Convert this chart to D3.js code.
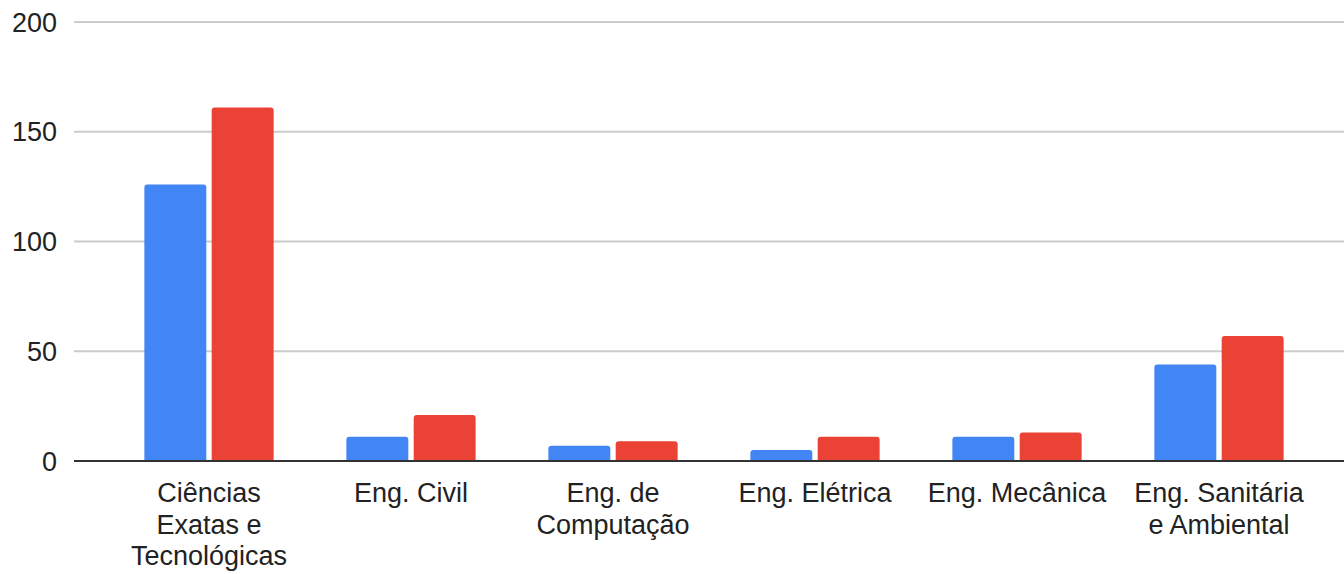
<!DOCTYPE html>
<html>
<head>
<meta charset="utf-8">
<script src="https://cdn.jsdelivr.net/npm/d3@7"></script>
<style>
  body { margin: 0; background: #fff; }
  svg { display: block; font-family: "Liberation Sans", Arial, sans-serif; }
</style>
</head>
<body>
<svg id="svg"></svg>
<script>
const categories = [
    ["Ciências", "Exatas e", "Tecnológicas"],
    ["Eng. Civil"],
    ["Eng. de", "Computação"],
    ["Eng. Elétrica"],
    ["Eng. Mecânica"],
    ["Eng. Sanitária", "e Ambiental"]
];
const seriesNames = ["s1", "s2"];
const blueValues = [126, 11, 7, 5, 11, 44];
const redValues = [161, 21, 9, 11, 13, 57];
const yTicks = [0, 50, 100, 150, 200];
const colours = ["#4285f4", "#ea4335"];

const width = 1344;
const height = 574;
let svg = d3.select("#svg").attr("width", width).attr("height", height);

const plotLeft = 74, plotRight = 1344;
const yScale = d3.scaleLinear().domain([0, 200]).range([461, 22]);

const x0 = d3.scaleBand()
    .domain(d3.range(categories.length))
    .range([108, 1320])
    .paddingInner(0.36)
    .paddingOuter(0.18);
const x1 = d3.scaleBand()
    .domain(seriesNames)
    .range([0, x0.bandwidth()])
    .paddingInner(0.08);

// gridlines
svg.append("g")
    .selectAll("line")
    .data(yTicks.filter(d => d > 0))
    .join("line")
    .attr("x1", plotLeft)
    .attr("x2", plotRight)
    .attr("y1", d => yScale(d))
    .attr("y2", d => yScale(d))
    .attr("stroke", "#cccccc")
    .attr("stroke-width", 2);

// y labels
svg.append("g")
    .selectAll("text")
    .data(yTicks)
    .join("text")
    .attr("x", 57)
    .attr("y", d => yScale(d))
    .attr("dy", "0.36em")
    .attr("text-anchor", "end")
    .attr("font-size", "27px")
    .attr("fill", "#222")
    .text(d => d);

// bars with rounded tops
function barPath(x, y, w, h, r) {
    r = Math.min(r, h, w / 2);
    return `M${x},${y + h}V${y + r}Q${x},${y} ${x + r},${y}H${x + w - r}Q${x + w},${y} ${x + w},${y + r}V${y + h}Z`;
}

const rows = categories.map((c, i) => ({ i: i, values: [blueValues[i], redValues[i]] }));
const groups = svg.append("g")
    .selectAll("g")
    .data(rows)
    .join("g")
    .attr("transform", d => `translate(${x0(d.i)},0)`);

groups.selectAll("path")
    .data(d => d.values.map((v, k) => ({ key: seriesNames[k], value: v, k: k })))
    .join("path")
    .attr("d", d => {
        const y = yScale(d.value);
        return barPath(x1(d.key), y, x1.bandwidth(), yScale(0) - y, 3);
    })
    .attr("fill", d => colours[d.k]);

// baseline
svg.append("line")
    .attr("x1", plotLeft)
    .attr("x2", plotRight)
    .attr("y1", yScale(0))
    .attr("y2", yScale(0))
    .attr("stroke", "#333")
    .attr("stroke-width", 2);

// x labels
const labels = svg.append("g")
    .selectAll("text")
    .data(categories)
    .join("text")
    .attr("x", (d, i) => x0(i) + x0.bandwidth() / 2)
    .attr("y", 502)
    .attr("text-anchor", "middle")
    .attr("font-size", "27px")
    .attr("fill", "#222");

labels.selectAll("tspan")
    .data(d => d)
    .join("tspan")
    .attr("x", function () { return d3.select(this.parentNode).attr("x"); })
    .attr("dy", (d, i) => i === 0 ? 0 : 31.5)
    .text(d => d);
</script>
</body>
</html>
